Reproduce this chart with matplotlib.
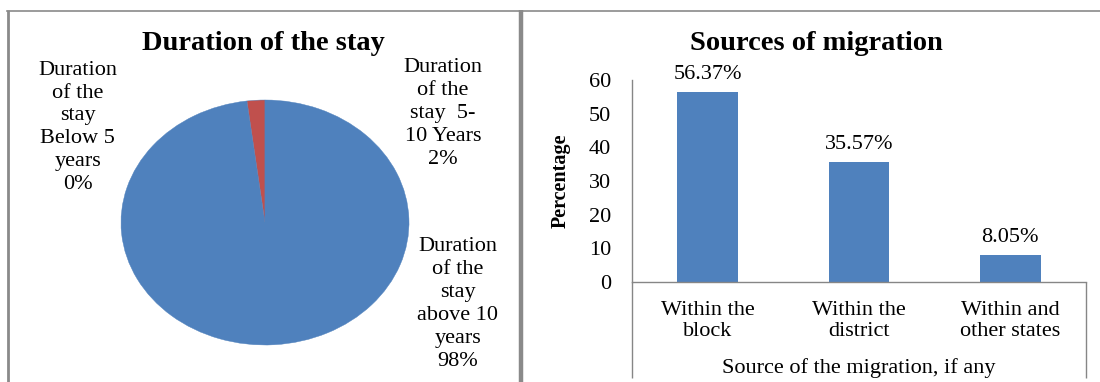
import matplotlib
matplotlib.use("Agg")
import matplotlib.pyplot as plt
from matplotlib.lines import Line2D

plt.rcParams['font.family'] = ['Liberation Serif', 'DejaVu Serif']

# Pie data (Excel order, clockwise from 12 o'clock)
stay_labels = ['Duration\nof the\nstay\nabove 10\nyears', 'Duration\nof the\nstay  5-\n10 Years',
               'Duration\nof the\nstay\nBelow 5\nyears']
stay_pct = [98, 2, 0]
stay_colors = ['#4F81BD', '#C0504D', '#9BBB59']

# Bar data
sources = ['Within the\nblock', 'Within the\ndistrict', 'Within and\nother states']
source_pct = [56.37, 35.57, 8.05]

W, H = 1100, 382
fig = plt.figure(figsize=(W / 100, H / 100), dpi=100)


def fx(px):
    return px / W


def fy(py):
    return 1 - py / H


def vline(x, y0, y1, lw, color='#8a8a8a'):
    fig.add_artist(Line2D([fx(x), fx(x)], [fy(y0), fy(y1)], transform=fig.transFigure,
                          color=color, lw=lw, solid_capstyle='butt'))


# panel borders
fig.add_artist(Line2D([fx(7), fx(1100)], [fy(10.5), fy(10.5)], transform=fig.transFigure,
                      color='#8a8a8a', lw=1.2))
vline(7.5, 10, 382, 2)
vline(521, 10, 382, 3.2)

# ---- left: pie ----
ax1 = fig.add_axes([fx(121), fy(345), fx(409) - fx(121), fy(100) - fy(345)])
ax1.pie(stay_pct, colors=stay_colors, startangle=90, counterclock=False,
        wedgeprops=dict(linewidth=0.3, edgecolor='#4F81BD'))
ax1.set_aspect('auto')
ax1.set_xlim(-1, 1)
ax1.set_ylim(-1, 1)
# label positions (data coords of the pie axes)
label_pos = [(1.34, -0.665), (1.236, 0.89), (-1.30, 0.776)]
for lab, pct, (x, y) in zip(stay_labels, stay_pct, label_pos):
    ax1.text(x, y, f'{lab}\n{pct}%', ha='center', va='center', fontsize=16,
             linespacing=1.28, clip_on=False)
fig.text(fx(263), fy(43), 'Duration of the stay', ha='center', va='center',
         fontsize=20.5, fontweight='bold')

# ---- right: bars ----
ax2 = fig.add_axes([fx(632), fy(282), fx(1086) - fx(632), fy(80) - fy(282)])
x = range(len(sources))
bars = ax2.bar(x, source_pct, width=0.4, color='#4F81BD')
ax2.set_xlim(-0.5, len(sources) - 0.5)
ax2.set_ylim(0, 60)
ax2.set_yticks(range(0, 61, 10))
ax2.set_xticks(list(x))
ax2.set_xticklabels(sources, fontsize=16, linespacing=1.08)
ax2.tick_params(axis='y', length=0, pad=15, labelsize=16)
ax2.tick_params(axis='x', length=0, pad=14)
for s in ['top', 'right']:
    ax2.spines[s].set_visible(False)
for s in ['left', 'bottom']:
    ax2.spines[s].set_color('#868686')
    ax2.spines[s].set_linewidth(1)
for b, v in zip(bars, source_pct):
    ax2.annotate(f'{v:.2f}%', (b.get_x() + b.get_width() / 2, v), xytext=(0, 6),
                 textcoords='offset points', ha='center', va='bottom', fontsize=16)
ax2.set_ylabel('Percentage', fontsize=14.5, fontweight='bold')
ax2.yaxis.set_label_coords(-0.134, 0.5)
ax2.set_xlabel('Source of the migration, if any', fontsize=16)
ax2.xaxis.set_label_coords(0.5, -0.425)
ax2.xaxis.label.set_va('center')
# box around category axis area
vline(632, 282, 378, 1, '#868686')
vline(1086, 282, 378, 1, '#868686')
fig.text(fx(816), fy(43), 'Sources of migration', ha='center', va='center',
         fontsize=20.5, fontweight='bold')

fig.savefig('out.png', dpi=100)
